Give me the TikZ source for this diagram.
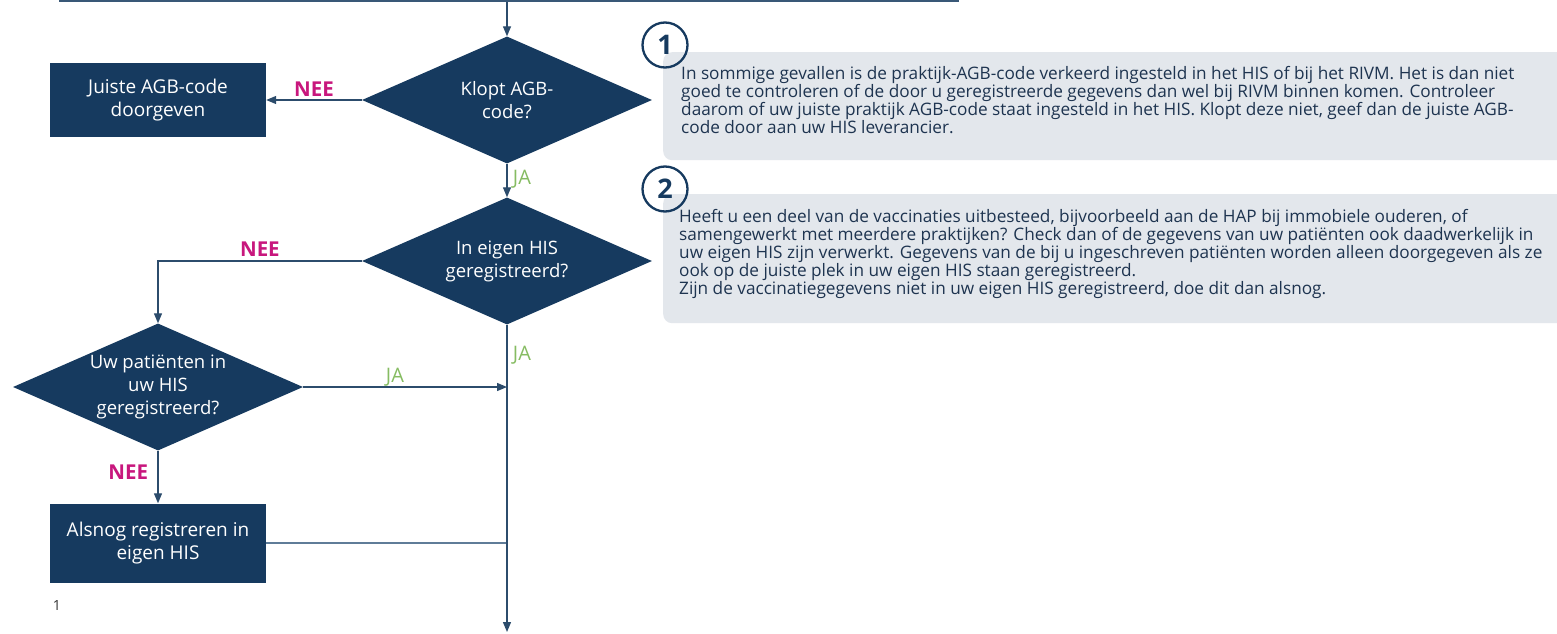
\documentclass[tikz,border=0pt]{standalone}
\usepackage{fontspec}
\setmainfont{Open Sans}
\usetikzlibrary{shapes.geometric,arrows.meta}
\definecolor{navy}{HTML}{163A5F}
\definecolor{lineC}{HTML}{2C4C6C}
\definecolor{lineL}{HTML}{5F7C98}
\definecolor{nee}{HTML}{C8177D}
\definecolor{ja}{HTML}{86BC62}
\definecolor{greybox}{HTML}{E3E7EC}
\definecolor{txt}{HTML}{1E3450}
\begin{document}
\begin{tikzpicture}[x=1pt,y=-1pt,
  dia/.style={shape=diamond, fill=navy, inner sep=0pt, minimum width=290pt, minimum height=127pt},
  dtext/.style={text=white, font=\fontsize{18.5}{23}\selectfont, align=center},
  procbox/.style={rectangle, fill=navy, inner sep=0pt, minimum width=216pt, text=white, font=\fontsize{19}{23}\selectfont, align=center},
  arr/.style={draw=lineC, line width=1.3pt, -{Triangle[length=10pt,width=8pt]}},
  plain/.style={draw=lineL, line width=1.3pt},
  neelab/.style={text=nee, font=\fontsize{20.5}{24}\selectfont\bfseries},
  jalab/.style={text=ja, font=\fontsize{20}{24}\selectfont},
  cbox/.style={rectangle, fill=greybox, rounded corners=9pt, inner sep=0pt, anchor=north west},
  num/.style={circle, draw=navy, line width=2.3pt, minimum size=45pt, inner sep=0pt, text=navy, font=\fontsize{27}{27}\selectfont\bfseries},
  ctext/.style={anchor=base west, inner sep=0pt, text=txt, font=\fontsize{17.2}{18}\selectfont}
]
\useasboundingbox (0,0) rectangle (1557,634);
\fill[white] (0,0) rectangle (1557,634);

% cut-off box at top
\node[draw=navy!85, line width=2pt, fill=white, minimum width=898pt, minimum height=60pt, inner sep=0pt, anchor=south] (topbox) at (509,2) {};

% flow nodes
\node[dia, label={[dtext]center:Klopt AGB-\\code?}] (d1) at (507,100) {};
\node[procbox, minimum height=74pt] (b1) at (158,100) {Juiste AGB-code\\doorgeven};
\node[dia, label={[dtext]center:In eigen HIS\\geregistreerd?}] (d2) at (507,261) {};
\node[dia, label={[dtext]center:Uw patiënten in\\uw HIS\\geregistreerd?}] (d3) at (158,387) {};
\node[procbox, minimum height=79pt] (b2) at (158,543) {Alsnog registreren in\\eigen HIS};
\coordinate (end) at (507,632);
\node[anchor=base, text=black!80, font=\fontsize{14}{14}\selectfont] (pg) at (57,610) {1};

% connectors
\draw[arr] (topbox.south -| d1.north) -- (d1.north);
\draw[arr] (d1.west) -- (b1.east) node[midway, anchor=base, yshift=4pt, neelab] {NEE};
\draw[arr] (d1.south) -- (d2.north) node[midway, anchor=west, xshift=2pt, yshift=1pt, jalab] {JA};
\draw[arr] (d2.west) -| (d3.north) node[pos=0.25, anchor=base, yshift=5pt, neelab] {NEE};
\draw[arr] (d3.east) -- (d3.east -| d2.south) node[pos=0.45, anchor=base, yshift=5pt, jalab] {JA};
\draw[arr] (d3.south) -- (b2.north) node[pos=0.4, anchor=east, xshift=-6pt, neelab] {NEE};
\draw[plain] (b2.east) -- (b2.east -| d2.south);
\draw[arr] (d2.south) -- (end) node[pos=0.1, anchor=west, xshift=2pt, jalab] {JA};

% callout 1
\node[cbox, minimum width=920pt, minimum height=108pt] (cb1) at (663,52) {};
\node[num] (n1) at (665,45) {1};
\node[ctext] (t11) at (681,79) {In sommige gevallen is de praktijk-AGB-code verkeerd ingesteld in het HIS of bij het RIVM. Het is dan niet};
\node[ctext] (t12) at (681,97) {goed te controleren of de door u geregistreerde gegevens dan wel bij RIVM binnen komen. Controleer};
\node[ctext] (t13) at (681,115) {daarom of uw juiste praktijk AGB-code staat ingesteld in het HIS. Klopt deze niet, geef dan de juiste AGB-};
\node[ctext] (t14) at (681,133) {code door aan uw HIS leverancier.};

% callout 2
\node[cbox, minimum width=920pt, minimum height=129pt] (cb2) at (663,194) {};
\node[num] (n2) at (665,189) {2};
\node[ctext] (t21) at (679,222) {Heeft u een deel van de vaccinaties uitbesteed, bijvoorbeeld aan de HAP bij immobiele ouderen, of};
\node[ctext] (t22) at (679,240) {samengewerkt met meerdere praktijken? Check dan of de gegevens van uw patiënten ook daadwerkelijk in};
\node[ctext] (t23) at (679,258) {uw eigen HIS zijn verwerkt. Gegevens van de bij u ingeschreven patiënten worden alleen doorgegeven als ze};
\node[ctext] (t24) at (679,276) {ook op de juiste plek in uw eigen HIS staan geregistreerd.};
\node[ctext] (t25) at (679,294) {Zijn de vaccinatiegegevens niet in uw eigen HIS geregistreerd, doe dit dan alsnog.};
\end{tikzpicture}
\end{document}
